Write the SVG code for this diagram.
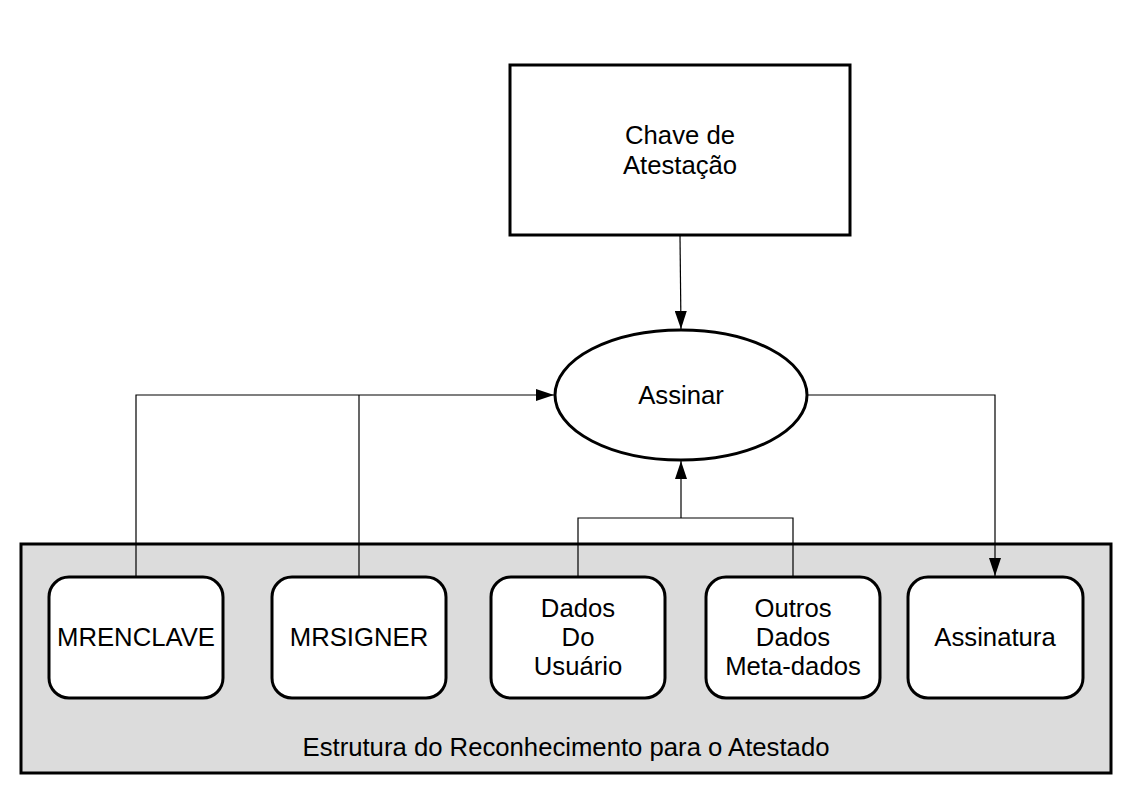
<svg xmlns="http://www.w3.org/2000/svg" width="1123" height="794" viewBox="0 0 1123 794">
<defs>
<style>
text{font-family:"Liberation Sans",Arial,sans-serif;font-size:25.7px;fill:#000;text-anchor:middle}
.node{fill:#fff;stroke:#000;stroke-width:3}
.conn{fill:none;stroke:#000;stroke-width:1.2}
</style>
<marker id="arrL" markerWidth="18" markerHeight="12" viewBox="0 0 18 12" refX="18" refY="6" orient="auto" markerUnits="userSpaceOnUse">
<path d="M0,0 L18,6 L0,12 Z" fill="#000"/>
</marker>
</defs>
<rect width="1123" height="794" fill="#fff"/>
<g id="container">
<rect x="21" y="544" width="1090" height="229" fill="#dcdcdc" stroke="#000" stroke-width="3"/>
<text x="566" y="756">Estrutura do Reconhecimento para o Atestado</text>
</g>
<g id="connectors">
<path class="conn" d="M680,236 L681,329" marker-end="url(#arrL)"/>
<path class="conn" d="M136,577 L136,395 L554,395" marker-end="url(#arrL)"/>
<path class="conn" d="M359,577 L359,395"/>
<path class="conn" d="M578,577 L578,518 L793,518 L793,577"/>
<path class="conn" d="M681,518 L681,461" marker-end="url(#arrL)"/>
<path class="conn" d="M807,395 L995,395 L995,576" marker-end="url(#arrL)"/>
</g>
<g id="chave">
<rect class="node" x="510" y="65" width="340" height="170"/>
<text x="680" y="144">Chave de</text>
<text x="680" y="174">Atestação</text>
</g>
<g id="assinar">
<ellipse class="node" cx="681" cy="395" rx="126" ry="65"/>
<text x="681" y="404">Assinar</text>
</g>
<g id="mrenclave">
<rect class="node" x="49" y="577" width="174" height="121" rx="20"/>
<text x="136" y="646">MRENCLAVE</text>
</g>
<g id="mrsigner">
<rect class="node" x="272" y="577" width="174" height="121" rx="20"/>
<text x="359" y="646">MRSIGNER</text>
</g>
<g id="dados">
<rect class="node" x="491" y="577" width="174" height="121" rx="20"/>
<text x="578" y="617">Dados</text>
<text x="578" y="646">Do</text>
<text x="578" y="675">Usuário</text>
</g>
<g id="outros">
<rect class="node" x="706" y="577" width="174" height="121" rx="20"/>
<text x="793" y="617">Outros</text>
<text x="793" y="646">Dados</text>
<text x="793" y="675">Meta-dados</text>
</g>
<g id="assinatura">
<rect class="node" x="908" y="577" width="175" height="121" rx="20"/>
<text x="995" y="646">Assinatura</text>
</g>
</svg>
